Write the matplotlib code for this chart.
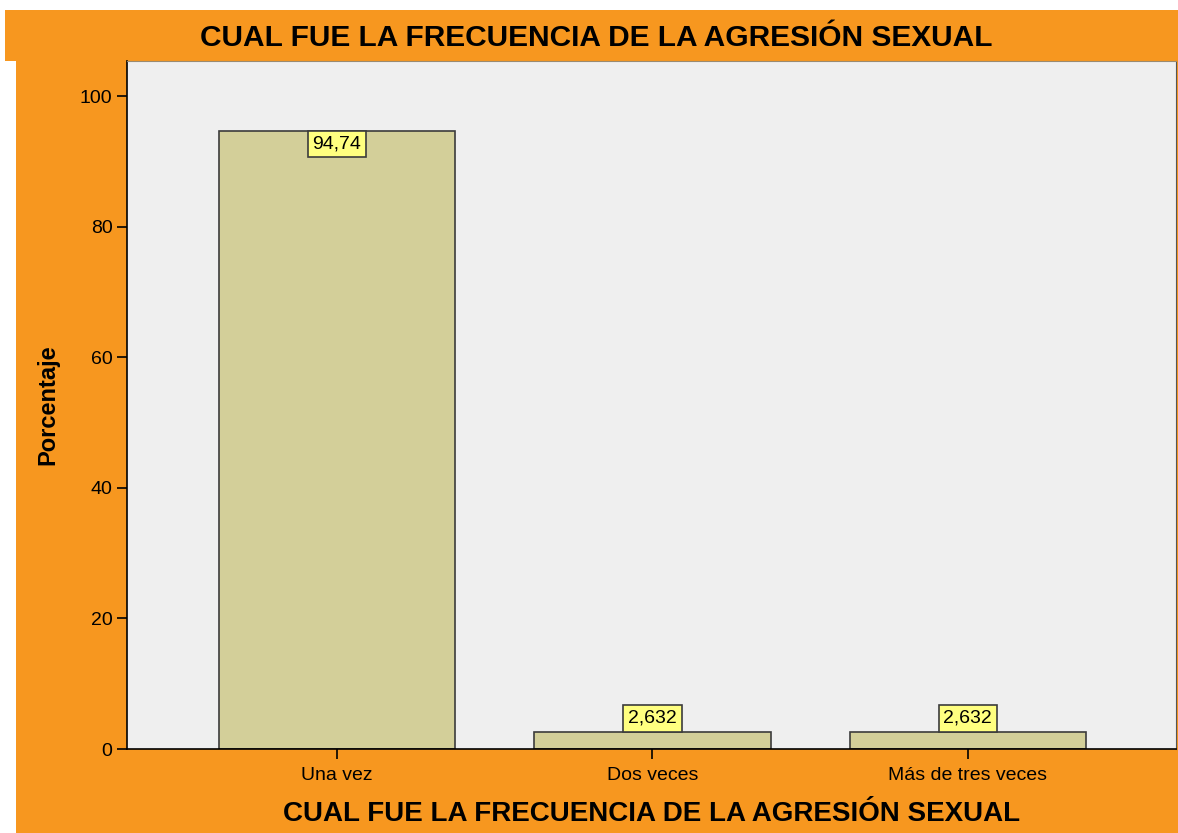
import matplotlib.pyplot as plt
from matplotlib.patches import Rectangle

plt.rcParams["font.family"] = ["Liberation Sans", "DejaVu Sans"]

categories = ["Una vez", "Dos veces", "Más de tres veces"]
percentages = [94.74, 2.632, 2.632]
value_labels = ["94,74", "2,632", "2,632"]
title = "CUAL FUE LA FRECUENCIA DE LA AGRESIÓN SEXUAL"

ORANGE = "#f7971f"
W, H = 1178, 833

fig = plt.figure(figsize=(W / 100, H / 100), dpi=100, facecolor="white")

# orange bands (pixel coords from top-left)
def band(x0, y0, x1, y1):
    fig.patches.append(Rectangle((x0 / W, 1 - y1 / H), (x1 - x0) / W, (y1 - y0) / H,
                                 transform=fig.transFigure, facecolor=ORANGE,
                                 edgecolor="none", zorder=-5))

band(5, 10, W, 61)
band(16, 61, W, H)

ax = fig.add_axes([127 / W, (H - 749) / H, (1176 - 127) / W, (749 - 61) / H])
ax.set_zorder(2)
ax.set_facecolor("#efefef")

x = range(len(categories))
ax.bar(x, percentages, width=0.75, color="#d3cf99", edgecolor="#3c3c3c", linewidth=1.2, zorder=2)

box = dict(boxstyle="square,pad=0.25", facecolor="#ffff80", edgecolor="#3c3c3c", lw=1.2)
for xi, v, lab in zip(x, percentages, value_labels):
    if v > 50:
        ax.annotate(lab, (xi, v), xytext=(0, -3.5), textcoords="offset points",
                    ha="center", va="top", fontsize=14, zorder=3, bbox=box)
    else:
        ax.annotate(lab, (xi, v), xytext=(0, 3.5), textcoords="offset points",
                    ha="center", va="bottom", fontsize=14, zorder=3, bbox=box)

ax.set_xlim(-0.666, 2.66)
ax.set_ylim(0, 105.4)
ax.set_yticks([0, 20, 40, 60, 80, 100])
ax.set_xticks(list(x), categories)
ax.tick_params(axis="both", direction="out", length=7, width=1.2, labelsize=14, colors="black")
ax.tick_params(axis="x", pad=6)
for s in ["left", "bottom"]:
    ax.spines[s].set_linewidth(1.2)
    ax.spines[s].set_color("black")
ax.spines["right"].set_color("#555555")
ax.spines["top"].set_color("#9a8a70")

ax.set_ylabel("Porcentaje", fontsize=17, fontweight="bold", labelpad=15)
ax.set_xlabel(title, fontsize=20, fontweight="bold", labelpad=12)
fig.text(596 / W, 1 - 38 / H, title, ha="center", va="center", fontsize=21.5, fontweight="bold")

fig.savefig("out.png", dpi=100, facecolor=fig.get_facecolor())
